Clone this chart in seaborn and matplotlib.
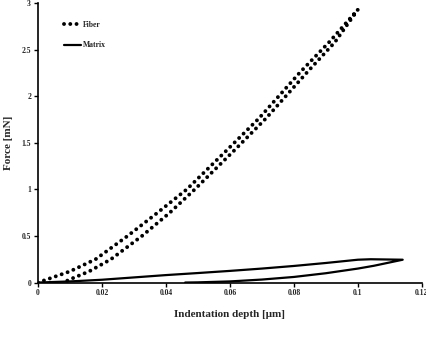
import numpy as np
import pandas as pd
import matplotlib
matplotlib.use("Agg")
import matplotlib.pyplot as plt
import seaborn as sns
from matplotlib.lines import Line2D

# Fiber: loading then unloading
fiber_depth = [0.0, 0.005, 0.01, 0.018, 0.028, 0.037, 0.0465, 0.059, 0.069, 0.082, 0.091, 0.1,
               0.0928, 0.0842, 0.0712, 0.0614, 0.0490, 0.0412, 0.0325, 0.0228, 0.016, 0.0097, 0.008]
fiber_force = [0.0, 0.06, 0.12, 0.25, 0.50, 0.74, 1.00, 1.42, 1.76, 2.26, 2.58, 2.93,
               2.58, 2.26, 1.76, 1.42, 1.00, 0.75, 0.50, 0.25, 0.12, 0.03, 0.0]

# Matrix: loading, hold, unloading
matrix_depth = [0.0, 0.01, 0.02, 0.03, 0.04, 0.05, 0.06, 0.07, 0.08, 0.09, 0.1, 0.104, 0.114,
                0.105, 0.1, 0.09, 0.08, 0.07, 0.06, 0.05, 0.046]
matrix_force = [0.0, 0.012, 0.03, 0.055, 0.08, 0.102, 0.125, 0.15, 0.178, 0.21, 0.245, 0.25, 0.245,
                0.18, 0.15, 0.10, 0.06, 0.032, 0.012, 0.002, 0.0]

x_ticks = [0, 0.02, 0.04, 0.06, 0.08, 0.1, 0.12]
x_tick_labels = ["0", "0.02", "0.04", "0.06", "0.08", "0.1", "0.12"]
y_ticks = [0, 0.5, 1, 1.5, 2, 2.5, 3]
y_tick_labels = ["0", "0.5", "1", "1.5", "2", "2.5", "3"]

sns.set_style("white")
plt.rcParams['font.family'] = ['Liberation Serif', 'DejaVu Serif']

df_f = pd.DataFrame({"depth": fiber_depth, "force": fiber_force})
df_m = pd.DataFrame({"depth": matrix_depth, "force": matrix_force})

fig = plt.figure(figsize=(4.27, 3.4), dpi=100)
ax = fig.add_axes([0.089, 0.169, 0.899, 0.822])

dot_style = (0, (0.01, 1.6))
sns.lineplot(data=df_f, x="depth", y="force", sort=False, estimator=None, ax=ax,
             color="black", linewidth=2.8, linestyle=dot_style,
             dash_capstyle="round")
sns.lineplot(data=df_m, x="depth", y="force", sort=False, estimator=None, ax=ax,
             color="black", linewidth=1.6)

ax.set_xlim(0, 0.12)
ax.set_ylim(0, 3)
ax.set_xticks(x_ticks)
ax.set_xticklabels(x_tick_labels)
ax.set_yticks(y_ticks)
ax.set_yticklabels(y_tick_labels)
for lab in ax.get_xticklabels() + ax.get_yticklabels():
    lab.set_fontweight("bold")
    lab.set_fontsize(5.5)
ax.tick_params(axis="both", direction="out", length=3, width=1, color="black", pad=2,
               bottom=True, left=True)
for s in ["top", "right"]:
    ax.spines[s].set_visible(False)
for s in ["left", "bottom"]:
    ax.spines[s].set_color("black")
    ax.spines[s].set_linewidth(1.2)

ax.set_xlabel("Indentation depth [μm]", fontsize=8, fontweight="bold", labelpad=9)
ax.set_ylabel("Force [mN]", fontsize=8, fontweight="bold", labelpad=6)

handles = [Line2D([], [], color="black", linewidth=2.8, linestyle=dot_style,
                  dash_capstyle="round"),
           Line2D([], [], color="black", linewidth=1.6)]
leg = ax.legend(handles, ["Fiber", "Matrix"], loc="upper left", frameon=False,
                bbox_to_anchor=(0.05, 0.96), prop={"weight": "bold", "size": 5.5},
                handlelength=2.2, handletextpad=0.3, labelspacing=1.6)

fig.savefig("out.png", dpi=100)
